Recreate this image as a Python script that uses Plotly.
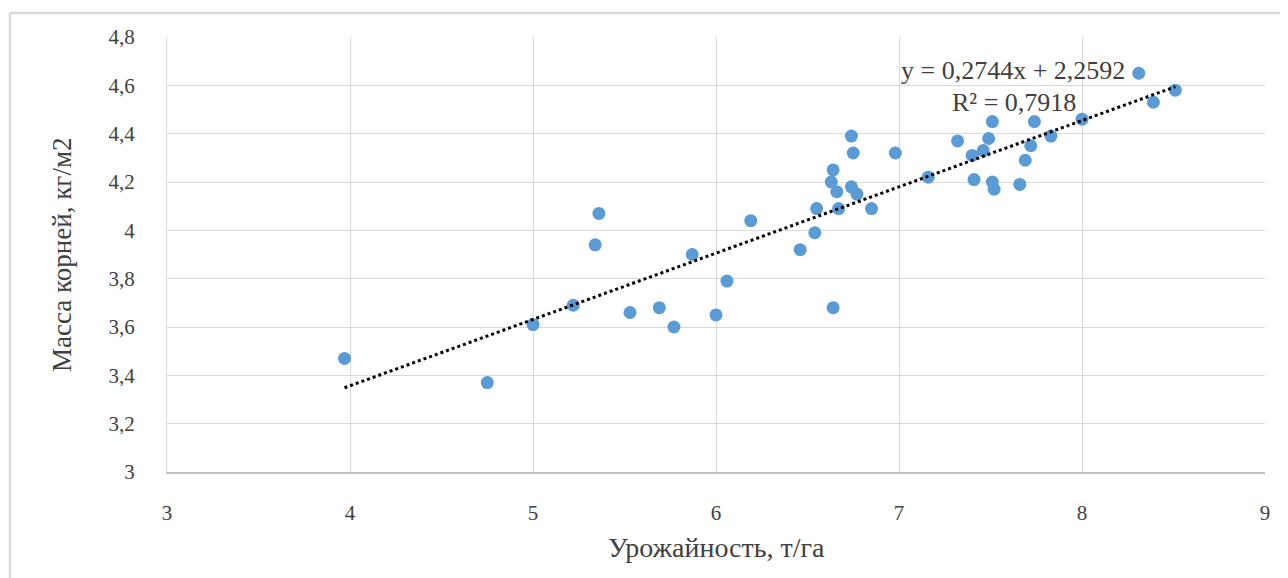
import plotly.graph_objects as go

# Data
yield_t_ha = [3.97, 4.75, 5.00, 5.22, 5.34, 5.36, 5.53, 5.69, 5.77, 5.87,
              6.00, 6.06, 6.19, 6.46, 6.54, 6.55, 6.64, 6.64, 6.63, 6.74,
              6.75, 6.74, 6.66, 6.77, 6.67, 6.85, 6.98, 7.16, 7.32, 7.40,
              7.41, 7.46, 7.49, 7.51, 7.51, 7.52, 7.66, 7.69, 7.72, 7.74,
              7.83, 8.00, 8.31, 8.39, 8.51]
root_mass = [3.47, 3.37, 3.61, 3.69, 3.94, 4.07, 3.66, 3.68, 3.60, 3.90,
             3.65, 3.79, 4.04, 3.92, 3.99, 4.09, 3.68, 4.25, 4.20, 4.39,
             4.32, 4.18, 4.16, 4.15, 4.09, 4.09, 4.32, 4.22, 4.37, 4.31,
             4.21, 4.33, 4.38, 4.45, 4.20, 4.17, 4.19, 4.29, 4.35, 4.45,
             4.39, 4.46, 4.65, 4.53, 4.58]
slope = 0.2744
intercept = 2.2592
r2 = 0.7918
x_ticks = [3, 4, 5, 6, 7, 8, 9]
y_ticks = [3.0, 3.2, 3.4, 3.6, 3.8, 4.0, 4.2, 4.4, 4.6, 4.8]
y_tick_text = ["3", "3,2", "3,4", "3,6", "3,8", "4", "4,2", "4,4", "4,6", "4,8"]
x_title = "Урожайность, т/га"
y_title = "Масса корней, кг/м2"

SERIF = "Liberation Serif"

fig = go.Figure()
fig.add_trace(go.Scatter(
    x=yield_t_ha, y=root_mass, mode="markers",
    marker=dict(color="#5B9BD5", size=13, line=dict(width=0)),
    showlegend=False, hoverinfo="x+y"))

xmin, xmax = min(yield_t_ha), max(yield_t_ha)
fig.add_trace(go.Scatter(
    x=[xmin, xmax], y=[slope * xmin + intercept, slope * xmax + intercept],
    mode="lines", line=dict(color="black", width=3, dash="dot"),
    showlegend=False, hoverinfo="skip"))

eq1 = "y = " + f"{slope:.4f}".replace(".", ",") + "x + " + f"{intercept:.4f}".replace(".", ",")
eq2 = "R² = " + f"{r2:.4f}".replace(".", ",")

fig.update_layout(
    width=1280, height=570,
    margin=dict(l=159, r=23, t=29, b=106),
    paper_bgcolor="white", plot_bgcolor="white",
    font=dict(family=SERIF, color="#404040", size=20),
    xaxis=dict(range=[3, 9], tickvals=x_ticks, ticktext=[str(v) for v in x_ticks],
               showgrid=True, gridcolor="#d9d9d9", gridwidth=1,
               showline=True, linecolor="#bfbfbf", linewidth=1.5,
               zeroline=False, ticks="", ticklabelstandoff=21,
               tickfont=dict(family=SERIF, size=21, color="#404040")),
    yaxis=dict(range=[3, 4.8], tickvals=y_ticks, ticktext=y_tick_text,
               showgrid=True, gridcolor="#d9d9d9", gridwidth=1,
               showline=True, linecolor="#d9d9d9", linewidth=1,
               zeroline=False, ticks="", ticklabelstandoff=27,
               tickfont=dict(family=SERIF, size=21, color="#404040")),
    annotations=[
        dict(x=0.5, y=-0.1747, xref="paper", yref="paper", text=x_title,
             showarrow=False, xanchor="center", yanchor="middle",
             font=dict(size=28, color="#404040", family=SERIF)),
        dict(x=-0.0956, y=0.499, xref="paper", yref="paper", text=y_title,
             showarrow=False, xanchor="center", yanchor="middle", textangle=-90,
             font=dict(size=27, color="#404040", family=SERIF)),
        dict(x=7.625, y=4.660, xref="x", yref="y", text=eq1,
             showarrow=False, xanchor="center", yanchor="middle",
             font=dict(size=26, color="#404040", family=SERIF)),
        dict(x=7.628, y=4.530, xref="x", yref="y", text=eq2,
             showarrow=False, xanchor="center", yanchor="middle",
             font=dict(size=26, color="#404040", family=SERIF)),
    ],
    shapes=[
        dict(type="line", xref="paper", yref="paper", x0=-0.143, x1=1.03,
             y0=1.055, y1=1.055, line=dict(color="#d9d9d9", width=2.5), layer="below"),
        dict(type="line", xref="paper", yref="paper", x0=-0.143, x1=-0.143,
             y0=1.055, y1=-0.3, line=dict(color="#d9d9d9", width=2.5), layer="below"),
    ],
)

fig.write_html("out.html")
